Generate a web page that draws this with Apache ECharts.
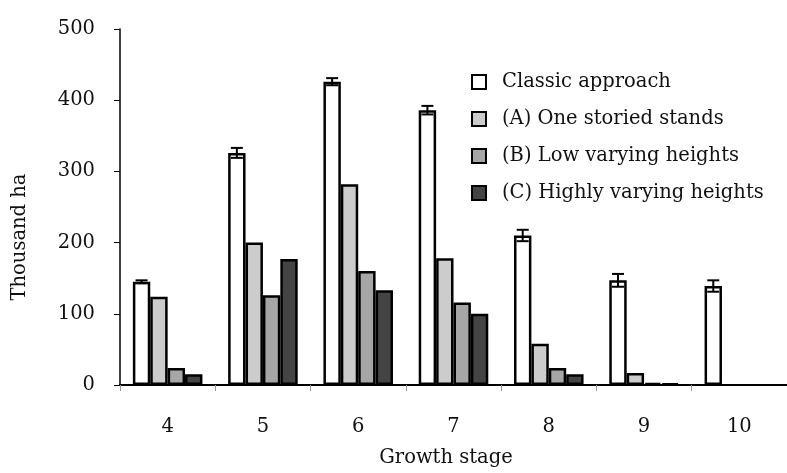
<!DOCTYPE html>
<html>
<head>
<meta charset="utf-8">
<script src="https://cdn.jsdelivr.net/npm/echarts@6/dist/echarts.min.js"></script>
<style>
html,body{margin:0;padding:0;background:#fff;}
#chart{width:787px;height:473px;}
</style>
</head>
<body>
<div id="chart"></div>
<script>
var categories = ['4', '5', '6', '7', '8', '9', '10'];
var seriesNames = ['Classic approach', '(A) One storied stands', '(B) Low varying heights', '(C) Highly varying heights'];
var classicValues = [145, 326, 426, 386, 210, 147, 139];
var classicErrors = [2, 7, 5, 6, 8, 9, 8];
var oneStoriedValues = [124, 200, 282, 178, 58, 17, null];
var lowVaryingValues = [24, 126, 160, 116, 24, 3, null];
var highlyVaryingValues = [15, 177, 133, 100, 15, 2, null];
var yTicks = [0, 100, 200, 300, 400, 500];

var colors = ['#ffffff', '#cccccc', '#a6a6a6', '#444444'];
var FONT = 'DejaVu Serif';
var FS = 19.5;
var CAT_GAP = 0.27;

function barSeries(name, data, color) {
  return {
    name: name,
    type: 'bar',
    data: data,
    barGap: '0%',
    barCategoryGap: (CAT_GAP * 100) + '%',
    itemStyle: { color: color, borderColor: '#000', borderWidth: 2.5 },
    emphasis: { disabled: true }
  };
}

var errData = classicValues.map(function (v, i) { return [i, v, classicErrors[i]]; });

var chart = echarts.init(document.getElementById('chart'));
chart.setOption({
  animation: false,
  backgroundColor: '#fff',
  textStyle: { fontFamily: FONT, color: '#111' },
  grid: { left: 120, right: -5, top: 29, bottom: 83, containLabel: false },
  legend: {
    data: seriesNames,
    orient: 'vertical',
    left: 466,
    top: 67,
    itemWidth: 14,
    itemHeight: 14,
    itemGap: 17,
    icon: 'rect',
    itemStyle: { borderWidth: 2, borderColor: '#000' },
    textStyle: { fontFamily: FONT, fontSize: FS, color: '#111', lineHeight: 20, padding: [0, 0, 0, 11] }
  },
  xAxis: {
    type: 'category',
    data: categories,
    name: 'Growth stage',
    nameLocation: 'middle',
    nameGap: 63,
    nameTextStyle: { fontFamily: FONT, fontSize: FS, color: '#111', padding: [0, 15, 0, 0] },
    axisLine: { show: true, lineStyle: { color: '#000', width: 2 } },
    axisTick: { show: true, length: 6, lineStyle: { color: '#999', width: 1 } },
    axisLabel: { fontFamily: FONT, fontSize: FS, color: '#111', margin: 32 },
    splitLine: { show: false }
  },
  yAxis: {
    type: 'value',
    min: yTicks[0],
    max: yTicks[yTicks.length - 1],
    interval: 100,
    name: 'Thousand ha',
    nameLocation: 'middle',
    nameGap: 90,
    nameTextStyle: { fontFamily: FONT, fontSize: FS, color: '#111', padding: [0, 60, 0, 0] },
    axisLine: { show: true, lineStyle: { color: '#000', width: 1.5 } },
    axisTick: { show: true, length: 6, lineStyle: { color: '#000', width: 1 } },
    axisLabel: { fontFamily: FONT, fontSize: FS, color: '#111', margin: 25, padding: [0, 0, 7, 0] },
    splitLine: { show: false }
  },
  series: [
    barSeries(seriesNames[0], classicValues, colors[0]),
    barSeries(seriesNames[1], oneStoriedValues, colors[1]),
    barSeries(seriesNames[2], lowVaryingValues, colors[2]),
    barSeries(seriesNames[3], highlyVaryingValues, colors[3]),
    {
      type: 'custom',
      name: 'errors',
      data: errData,
      encode: { x: 0, y: 1 },
      z: 10,
      renderItem: function (params, api) {
        var idx = api.value(0);
        var v = api.value(1);
        var e = api.value(2);
        var band = api.size([1, 0])[0];
        var bw = band * (1 - CAT_GAP) / 4;
        var c = api.coord([idx, v]);
        var cx = c[0] - 1.5 * bw;
        var hi = api.coord([idx, v + e])[1];
        var lo = api.coord([idx, v - e])[1];
        var cap = 6;
        var st = { stroke: '#000', lineWidth: 2 };
        return {
          type: 'group',
          children: [
            { type: 'line', shape: { x1: cx, y1: hi, x2: cx, y2: lo }, style: st },
            { type: 'line', shape: { x1: cx - cap, y1: hi, x2: cx + cap, y2: hi }, style: st },
            { type: 'line', shape: { x1: cx - cap, y1: lo, x2: cx + cap, y2: lo }, style: st }
          ]
        };
      }
    }
  ]
});
</script>
</body>
</html>
